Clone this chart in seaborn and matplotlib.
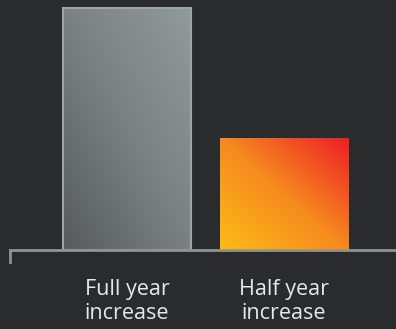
import numpy as np
import pandas as pd
import matplotlib
matplotlib.use("Agg")
import matplotlib.pyplot as plt
import seaborn as sns
from matplotlib.colors import LinearSegmentedColormap

# Datos
categorias = ["Full year\nincrease", "Half year\nincrease"]
valores = [100, 46.4]

# Colores de los degradados (abajo-izquierda -> arriba-derecha)
grad_gris = ["#565a5d", "#7b8183", "#939a9b"]
grad_naranja = ["#fdbb15", "#f68a1f", "#ee1c25"]
fondo = "#2a2b2d"

df = pd.DataFrame({"categoria": categorias, "valor": valores})

sns.set_style("dark")
plt.rcParams["font.family"] = ["Open Sans", "DejaVu Sans"]

fig = plt.figure(figsize=(3.96, 3.29), dpi=100, facecolor=fondo)
ax = fig.add_axes([10 / 396, 67 / 329, 1 - 10 / 396, 262 / 329])
ax.set_facecolor(fondo)

sns.barplot(data=df, x="categoria", y="valor", width=0.82, ax=ax,
            color="#777777", saturation=1)

# Degradados diagonales recortados a cada barra
n = 256
xx, yy = np.meshgrid(np.linspace(0, 1, n), np.linspace(0, 1, n))
diag = (xx + yy) / 2
for barra, colores in zip(ax.patches, [grad_gris, grad_naranja]):
    cmap = LinearSegmentedColormap.from_list("g", colores)
    x0, y0 = barra.get_x(), barra.get_y()
    x1, y1 = x0 + barra.get_width(), y0 + barra.get_height()
    im = ax.imshow(diag, cmap=cmap, origin="lower", extent=[x0, x1, y0, y1],
                   aspect="auto", zorder=barra.get_zorder() + 0.1, vmin=0, vmax=1)
    im.set_clip_path(barra)
    barra.set_edgecolor("none")

# Borde claro de la barra gris
gris = ax.patches[0]
ax.add_patch(plt.Rectangle((gris.get_x(), gris.get_y()), gris.get_width(), gris.get_height(),
                           fill=False, edgecolor="#9ea5a6", linewidth=1.5, zorder=5))

ax.set_xlim(-0.745, 1.713)
ax.set_ylim(-4.96, 103.3)

# Ejes
for lado in ["top", "right"]:
    ax.spines[lado].set_visible(False)
ax.spines["bottom"].set_position(("data", 0))
ax.spines["bottom"].set_color("#8e9394")
ax.spines["bottom"].set_linewidth(2)
ax.spines["bottom"].set_zorder(6)
ax.spines["left"].set_bounds(-4.96, 0)
ax.spines["left"].set_color("#8e9394")
ax.spines["left"].set_linewidth(2)
ax.spines["left"].set_visible(True)

ax.set_yticks([])
ax.set_xlabel("")
ax.set_ylabel("")
ax.grid(False)
ax.tick_params(axis="x", length=0, pad=21, labelsize=15.5, colors="#e8e8e8")
for t in ax.get_xticklabels():
    t.set_linespacing(1.2)

plt.savefig("out.png", dpi=100, facecolor=fondo)
plt.close()
